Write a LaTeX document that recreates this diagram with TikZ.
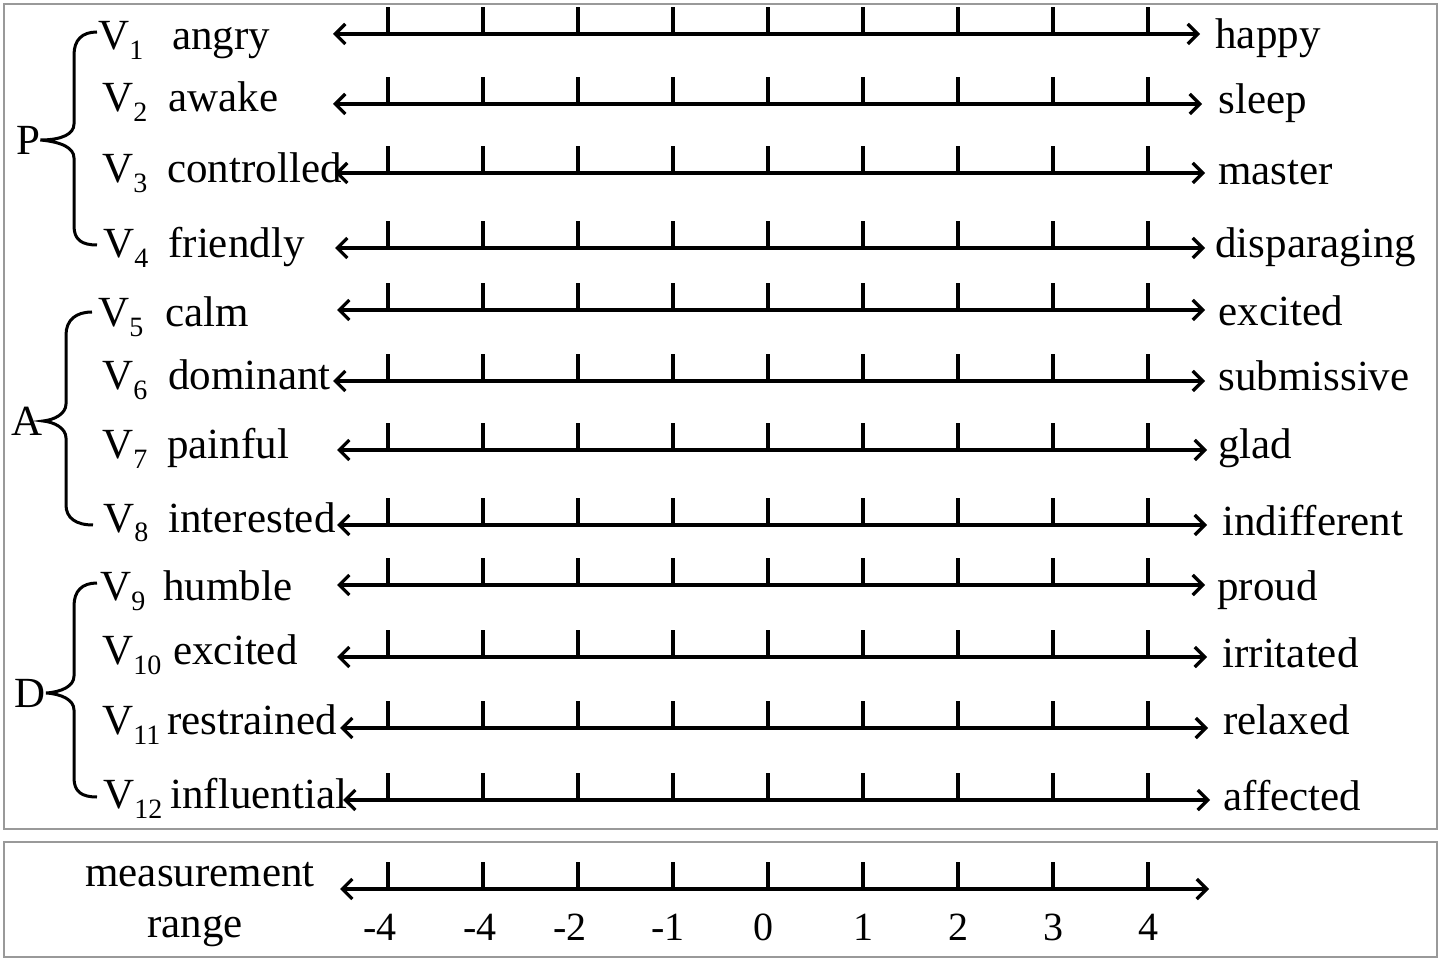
\documentclass[tikz,border=0pt]{standalone}
\usepackage{fontspec}
\setmainfont{Liberation Serif}
\usetikzlibrary{arrows.meta}
\newcommand\vsub[1]{\raisebox{-5pt}{\fontsize{14}{14}\selectfont #1}}
\tikzset{
  lbl/.style={inner sep=0pt, anchor=base west, font=\fontsize{21.5}{24}\selectfont},
  num/.style={inner sep=0pt, anchor=base, font=\fontsize{20}{22}\selectfont},
  axis/.style={line width=1.6pt, {Straight Barb[length=5pt,width=10pt,line width=1.6pt]}-{Straight Barb[length=5pt,width=10pt,line width=1.6pt]}},
  tick/.style={line width=1.6pt},
  brace/.style={line width=1.5pt},
  frame/.style={draw=black!40, line width=1pt}
}
\begin{document}
\begin{tikzpicture}[x=0.5pt,y=-0.5pt]
\useasboundingbox (0,0) rectangle (1441,962);
\draw[frame] (4,4) rectangle (1437,829);
\draw[frame] (4,842) rectangle (1437,957);
% rows: index/line y/left end/right end/V x/left baseline/word x/word/right x/right baseline/right word
\foreach \i/\ly/\la/\lb/\vx/\bl/\wx/\w/\rx/\br/\rw in {
 1/34/333/1200/98/50/172/angry/1215/49/happy,
 2/104/333/1202/102/112/168/awake/1218/114/sleep,
 3/173/335/1205/102/183/167/controlled/1218/185/master,
 4/248/335/1205/103/258/168/friendly/1215/258/disparaging,
 5/310/337/1205/98/327/165/calm/1218/326/excited,
 6/381/333/1205/102/390/168/dominant/1218/391/submissive,
 7/450/337/1207/102/459/167/painful/1218/459/glad,
 8/525/337/1207/103/532/168/interested/1222/536/indifferent,
 9/585/337/1205/100/601/163/humble/1217/601/proud,
 10/657/337/1207/102/664/173/excited/1222/668/irritated,
 11/728/340/1208/102/734/167/restrained/1223/734/relaxed,
 12/800/343/1210/103/808/170/influential/1223/810/affected}{
  \node[lbl] (v\i) at (\vx,\bl) {V\vsub{\i}};
  \node[lbl] (w\i) at (\wx,\bl) {\w};
  \node[lbl] (r\i) at (\rx,\br) {\rw};
  \coordinate (a\i) at (\la,\ly);
  \coordinate (b\i) at (\lb,\ly);
  \draw[axis] (a\i) -- (b\i);
  \foreach \t [count=\k] in {388,483,578,673,768,863,958,1053,1148}{
    \coordinate (t\i-\k) at (\t,\ly);
    \draw[tick] (t\i-\k) -- ++(0,-27);
  }
}
% group labels
\node[inner sep=0pt, font=\fontsize{21.5}{24}\selectfont] (P) at (28,140) {P};
\node[inner sep=0pt, font=\fontsize{21.5}{24}\selectfont] (A) at (27,421) {A};
\node[inner sep=0pt, font=\fontsize{21.5}{24}\selectfont] (D) at (30,693) {D};
% braces
\draw[brace] (97,32) .. controls (82,32) and (74,40) .. (74,55) -- (74,124)
  .. controls (74,134) and (62,140) .. (P.east) .. controls (62,142) and (74,148) .. (74,158)
  -- (74,226) .. controls (74,240) and (82,245) .. (97,245);
\draw[brace] (92,312) .. controls (76,312) and (66,320) .. (66,335) -- (66,404)
  .. controls (66,414) and (54,420) .. (A.east) .. controls (54,422) and (66,428) .. (66,438)
  -- (66,505) .. controls (66,518) and (76,525) .. (93,525);
\draw[brace] (97,583) .. controls (82,583) and (74,591) .. (74,606) -- (74,676)
  .. controls (74,686) and (62,692) .. (D.east) .. controls (62,694) and (74,700) .. (74,710)
  -- (74,778) .. controls (74,792) and (82,797) .. (97,797);
% measurement row
\node[lbl, anchor=base] (m1) at (200,886) {measurement};
\node[lbl, anchor=base] (m2) at (195,937) {range};
\coordinate (ma) at (340,889);
\coordinate (mb) at (1209,889);
\draw[axis] (ma) -- (mb);
\foreach \t/\nx/\lab [count=\k] in {388/380/-4,483/480/-4,578/570/-2,673/668/-1,768/763/0,863/863/1,958/958/2,1053/1053/3,1148/1148/4}{
  \coordinate (mt\k) at (\t,889);
  \draw[tick] (mt\k) -- ++(0,-27);
  \node[num] (n\k) at (\nx,940) {\lab};
}
\end{tikzpicture}
\end{document}
